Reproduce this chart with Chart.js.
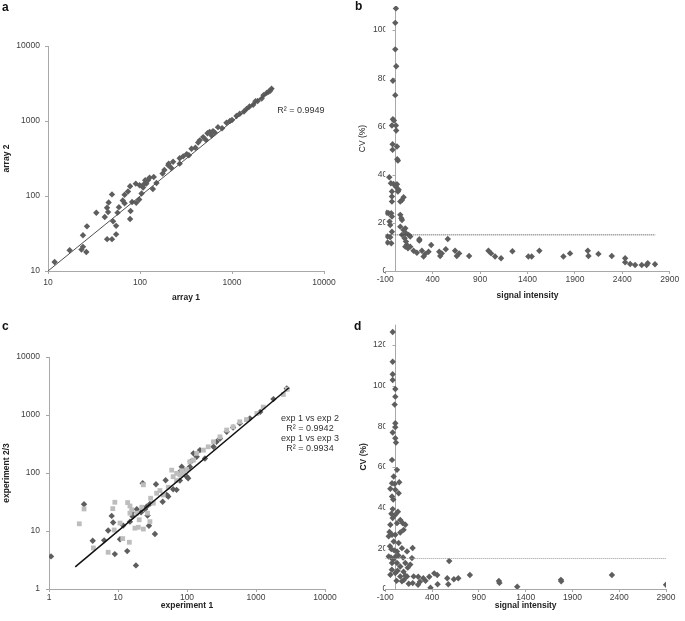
<!DOCTYPE html>
<html>
<head>
<meta charset="utf-8">
<script src="https://cdn.jsdelivr.net/npm/chart.js@4/dist/chart.umd.min.js"></script>
<style>
  body { margin: 0; background: #fff; }
  #fig { position: relative; width: 685px; height: 621px; font-family: "Liberation Sans", Arial, sans-serif; }
  #fig canvas { position: absolute; }
  .tag { position: absolute; font-weight: bold; font-size: 12px; line-height: 12px; color: #111; }
</style>
</head>
<body>
<div id="fig">
  <canvas id="chartA" width="342" height="310" style="left:0;top:0"></canvas>
  <canvas id="chartB" width="343" height="310" style="left:342px;top:0"></canvas>
  <canvas id="chartC" width="342" height="311" style="left:0;top:310px"></canvas>
  <canvas id="chartD" width="343" height="311" style="left:342px;top:310px"></canvas>
  <div class="tag" style="left:2px;top:1px">a</div>
  <div class="tag" style="left:355px;top:0px">b</div>
  <div class="tag" style="left:2px;top:320px">c</div>
  <div class="tag" style="left:354px;top:320px">d</div>
</div>
<script>
// panel a: array 1 vs array 2
const aX = [11.8, 17.2, 23.1, 24, 26.1, 24, 26.5, 33.5, 41.4, 43.8, 45.6, 45, 43.9, 49.6, 49.6, 51, 55, 55, 57, 59,
            68, 68, 65, 74, 78, 79, 78, 82, 90, 91, 98, 99, 104, 110, 114, 117, 122, 108, 127, 138,
            141, 151, 176, 184, 203, 205, 219, 229, 270, 270, 295, 322, 363, 429, 446, 486, 541, 572, 622, 704,
            871, 948, 1119, 1215, 1440, 1700, 1800, 2100, 2200, 2380, 2600, 2690,
            340, 400, 520, 600, 650, 780, 1000, 1350, 1550, 1900, 2500];
const aY = [13.2, 18.9, 19.3, 21, 17.9, 29.9, 39.4, 59.9, 52.4, 69.8, 82, 61, 26.6, 26.6, 105, 45.9, 40, 30.8, 60, 71,
            80, 104, 87, 115, 135, 63, 49.4, 83, 146, 81, 90, 139, 108, 143, 162, 146, 162, 130, 175, 124,
            179, 149, 199, 222, 257, 270, 236, 286, 318, 270, 338, 362, 427, 516, 552, 610, 688, 717, 733, 828,
            948, 1000, 1165, 1250, 1450, 1650, 1830, 1990, 2200, 2370, 2530, 2700,
            350, 440, 560, 640, 700, 800, 1030, 1340, 1560, 1850, 2450];
const aFitX = [10, 2800];
const aFitY = [10, 2750];
const aTicks = [10, 100, 1000, 10000];

// panel b: signal intensity vs CV
const bX = [12, 5, 5, 15, -20, 5, -20, -9, -30, 12, 15, -23, -23, 23, 26, 33, -58, -41, -13, 23,
            41, 12, -30, -30, -30, 33, 76, 93, 58, -83, -65, -37, -55, -48, -30, -76, -48, -76, -37, -30,
            58, 69, 76, 58, 93, 111, 118, 76, 146, 163, 104, 118, 128, 139, 111, 163, 198, 233, 286, 259,
            259, 304, 321, 356, 384, 469, 479, 496, 538, 559, 636, 654, 679, 784, 988, 1016, 1058, 1121, 1241, 1409,
            1444, 1525, 1779, 1849, 2036, 2043, 2148, 2289, 2430, 2430, 2483, 2535, 2605, 2657, 2668, 2745];
const bY = [109, 103, 92, 85, 79, 73, 63, 62.5, 60.4, 60.4, 58.3, 52.6, 50.3, 51.7, 46.4, 45.8, 38.9, 36.4, 36.1, 36,
            33.7, 35, 33, 30.9, 28.8, 33, 29.5, 30.6, 28.8, 24.2, 24, 24, 20.5, 19.1, 22.6, 14.3, 14, 11.8, 11.5, 16.3,
            23.3, 21.9, 21.2, 18.4, 17, 17.7, 15.7, 15, 15, 14.3, 13.6, 12.2, 10.8, 9.4, 10.1, 10.1, 8.4, 7.6, 8.4, 13.2,
            12.6, 6, 7.1, 8, 10.8, 8, 6.2, 7.3, 9, 13.3, 8.4, 6.2, 7.3, 6.2, 8.4, 7.3, 6, 5.3, 8.2, 6,
            6, 8.4, 6, 7.3, 8.4, 6.2, 7.1, 6.2, 5.3, 3.6, 2.9, 2.5, 2.5, 2.5, 3.2, 2.8];
const bCutX = [-100, 2750];
const bCutY = [15, 15];
const bXTicks = [-100, 400, 900, 1400, 1900, 2400, 2900];
const bYTicks = [0, 20, 40, 60, 80, 100];

// panel c: experiment 1 vs experiment 2 (dark) and 3 (light)
const cDarkX = [1.07, 3.22, 4.3, 6.3, 7.2, 8.1, 8.5, 9, 10.7, 11.9, 13.6, 14.9, 15.8, 16.3, 18.2, 18.7, 21.6, 22.8, 24.6, 25.9,
                26.8, 28.1, 29, 34.3, 35.5, 44.4, 49, 50.9, 53.5, 63, 70.6, 79, 79, 83.8, 90, 98.6, 104, 110, 113, 124,
                138, 154, 182, 242, 268, 301, 376, 466, 582, 816, 1150, 1790, 2790];
const cDarkY = [3.65, 28.9, 6.8, 6.9, 10.2, 18.2, 14, 4.0, 7.2, 12.4, 4.5, 14.5, 20.8, 17.8, 2.55, 23.7, 21.1, 66.5, 23.7, 26.3,
                18.5, 12.3, 29.3, 8.9, 63.9, 32, 74.8, 41.8, 39.3, 52.5, 51.2, 74, 105, 128, 112, 87, 81, 128, 156, 218,
                191, 248, 178, 283, 345, 394, 514, 610, 717, 875, 1130, 1880, 2860];
const cLightX = [2.75, 3.22, 4.4, 7.2, 8.4, 9, 8.8, 10.7, 11.7, 13.8, 14.6, 14.9, 15.8, 14.9, 17.6, 19.7, 20.3, 18.7, 23.3, 22.1,
                 23.3, 26.8, 29, 29.7, 32.5, 36.3, 40.5, 45.3, 53.5, 60, 63, 70.6, 70.6, 79, 83.8, 90, 98.6, 110, 124, 138,
                 173, 203, 242, 301, 376, 466, 582, 727, 1030, 1275, 2490, 2840];
const cLightY = [13.3, 24, 5.1, 4.3, 24.3, 31.3, 10.4, 13.7, 7.4, 30.9, 6.4, 27, 23.2, 20.3, 11.2, 11.6, 15.6, 20.3, 10.8, 25.7,
                 62.6, 20.3, 14.5, 36.7, 30.2, 44.8, 49.8, 41.8, 56.8, 112, 86.5, 74.1, 98.6, 92.4, 109, 98.6, 115, 156, 167, 218,
                 248, 283, 345, 420, 550, 624, 763, 834, 1060, 1370, 2260, 2780];
const cFitX = [2.4, 3000];
const cFitY = [2.4, 2950];
const cTicksX = [1, 10, 100, 1000, 10000];
const cTicksY = [1, 10, 100, 1000, 10000];

// panel d: signal intensity vs CV (second set)
const dX = [-21, -21, -21, -21, 7, 7, 0, 7, 7, -21, 7, 14, -28, 25, -10, -28, 0, -46, 7, 49,
            43, -28, -21, -35, 7, -21, -46, 25, 85, 60, -64, -28, 7, 60, 96, 114, -10, 43, -35, 25,
            78, 132, 185, -64, -28, 25, 60, 114, 167, -46, 7, 60, 78, 132, 203, 150, 193, 250, 192, 583,
            804, 1114, 1120, 1310, 1777, 1780, 562, 573, 633, 680, 459, 423, 455, 383, 370, 306, 252, 270, 330, 2322,
            2900, -40, -15, 10, 40, 90, -50, -5, 30, 95, 115, 20, -30, 100, 140, -55, 35, -15];
const dY = [126.4, 111.8, 105.6, 102.8, 98.4, 94.6, 90.7, 81.5, 79.6, 77, 74.2, 72, 63.5, 58.6, 55.3, 52, 51.7, 49.3, 48.8, 52.5,
            47.1, 45.5, 39.3, 37, 36.5, 34.9, 31.6, 32.4, 32.5, 34, 25.9, 26.7, 26.7, 27.8, 29.1, 31.6, 23.4, 22.6, 19.6, 18.5,
            20.1, 18.5, 15.2, 16, 12.8, 12.8, 11.1, 12.8, 12, 7, 7.9, 6.2, 3.8, 6.2, 6.2, 2.6, 2.9, 2.1, 20.2, 13.8,
            6.9, 3.9, 3.0, 1.1, 4.5, 3.8, 5.3, 2.3, 4.8, 5.3, 2.3, 7.7, 6.9, 0.6, 6, 5.3, 6, 3.6, 4, 6.9,
            2.1, 15.5, 14.5, 16, 16.5, 15.5, 21, 19, 9, 8.5, 6.5, 4, 9.5, 4.5, 10.5, 28, 38, 44];
const dCutX = [-100, 2900];
const dCutY = [15, 15];
const dXTicks = [-100, 400, 900, 1400, 1900, 2400, 2900];
const dYTicks = [0, 20, 40, 60, 80, 100, 120];

const FONT = '"Liberation Sans", Arial, sans-serif';
const AXIS_GREY = '#a8a8a8';
const TICK_TEXT = '#404040';
const DARK = '#5e5e5e';
const LIGHT = '#bdbdbd';

function toPoints(xs, ys) {
    return xs.map((x, i) => ({x: x, y: ys[i]}));
}

// builds one axis; size fixes the box so the plot area lands where the figure has it
function axis(o) {
    const vertical = o.position === 'left';
    return {
        type: o.type,
        position: o.position,
        min: o.min,
        max: o.max,
        afterBuildTicks: scale => { scale.ticks = o.ticks.map(v => ({value: v})); },
        afterFit: scale => { if (vertical) scale.width = o.size; else scale.height = o.size; },
        border: {display: o.line !== false, color: AXIS_GREY, width: 1},
        grid: {display: o.line !== false, drawOnChartArea: false, drawTicks: o.line !== false,
               tickLength: o.line !== false ? 3 : 0, color: AXIS_GREY},
        ticks: {autoSkip: false, maxRotation: 0, padding: o.pad, color: TICK_TEXT,
                font: {family: FONT, size: 8.5}, callback: v => String(v)},
        title: {display: true, text: o.title, color: '#222', padding: o.titlePad,
                font: {family: FONT, size: 8.5, weight: o.bold ? 'bold' : 'normal'}}
    };
}

// vertical axis line of the CV panels crosses the x axis at 0
const zeroAxis = {
    id: 'zeroAxis',
    beforeDatasetsDraw(chart) {
        const ctx = chart.ctx;
        const x = Math.round(chart.scales.x.getPixelForValue(0)) + 0.5;
        const {top, bottom} = chart.chartArea;
        ctx.save();
        ctx.strokeStyle = AXIS_GREY;
        ctx.lineWidth = 1;
        ctx.beginPath();
        ctx.moveTo(x, top);
        ctx.lineTo(x, bottom);
        chart.scales.y.ticks.forEach(t => {
            const y = Math.round(chart.scales.y.getPixelForValue(t.value)) + 0.5;
            ctx.moveTo(x - 3, y);
            ctx.lineTo(x, y);
        });
        ctx.stroke();
        ctx.restore();
    }
};

// R² labels placed in data coordinates
const noteText = {
    id: 'noteText',
    afterDatasetsDraw(chart, args, opts) {
        const ctx = chart.ctx;
        const x = chart.scales.x.getPixelForValue(opts.x);
        const y = chart.scales.y.getPixelForValue(opts.y);
        ctx.save();
        ctx.font = '9px ' + FONT;
        ctx.fillStyle = '#333';
        ctx.textAlign = 'center';
        ctx.textBaseline = 'middle';
        opts.lines.forEach((t, i) => ctx.fillText(t, x, y + i * 10));
        ctx.restore();
    }
};

const base = {
    responsive: false,
    animation: false,
    events: [],
    plugins: {legend: {display: false}, tooltip: {enabled: false}}
};

function darkSet(data) {
    return {data: data, backgroundColor: DARK, borderWidth: 0, pointStyle: 'rectRot', pointRadius: 3.2, order: 2};
}
function guideLine(data, color, width, dash) {
    return {data: data, showLine: true, pointRadius: 0, borderColor: color, borderWidth: width,
            borderDash: dash, fill: false, order: 0};
}

// a
new Chart(document.getElementById('chartA'), {
    type: 'scatter',
    data: {datasets: [
        guideLine(toPoints(aFitX, aFitY), '#505050', 1, []),
        darkSet(toPoints(aX, aY))
    ]},
    options: Object.assign({}, base, {
        layout: {padding: {left: 0, top: 46, right: 18, bottom: 0}},
        plugins: Object.assign({}, base.plugins, {noteText: {x: 5600, y: 1400, lines: ['R² = 0.9949']}}),
        scales: {
            x: axis({type: 'logarithmic', position: 'bottom', min: 10, max: 10000, ticks: aTicks, size: 39,
                     pad: 4, title: 'array 1', bold: true, titlePad: {top: 0, bottom: 7}}),
            y: axis({type: 'logarithmic', position: 'left', min: 10, max: 10000, ticks: aTicks, size: 48,
                     pad: 5, title: 'array 2', bold: true, titlePad: {top: 2, bottom: 0}})
        }
    }),
    plugins: [noteText]
});

// b
new Chart(document.getElementById('chartB'), {
    type: 'scatter',
    data: {datasets: [
        guideLine(toPoints(bCutX, bCutY), '#404040', 1, [1, 1]),
        darkSet(toPoints(bX, bY))
    ]},
    options: Object.assign({}, base, {
        layout: {padding: {left: 0, top: 6, right: 15.3, bottom: 0}},
        scales: {
            x: axis({type: 'linear', position: 'bottom', min: -100, max: 2900, ticks: bXTicks, size: 39,
                     pad: 1, title: 'signal intensity', bold: true, titlePad: {top: 0, bottom: 9}}),
            y: axis({type: 'linear', position: 'left', min: 0, max: 110, ticks: bYTicks, size: 43.3, line: false,
                     pad: -2, title: 'CV (%)', bold: false, titlePad: {top: 16, bottom: 0}})
        }
    }),
    plugins: [zeroAxis]
});

// c
new Chart(document.getElementById('chartC'), {
    type: 'scatter',
    data: {datasets: [
        guideLine(toPoints(cFitX, cFitY), '#111', 1.5, []),
        {data: toPoints(cLightX, cLightY), backgroundColor: LIGHT, borderWidth: 0, pointStyle: 'rect', pointRadius: 3.4, order: 1},
        darkSet(toPoints(cDarkX, cDarkY))
    ]},
    options: Object.assign({}, base, {
        layout: {padding: {left: 0, top: 47, right: 17, bottom: 0}},
        plugins: Object.assign({}, base.plugins, {noteText: {x: 6060, y: 887,
            lines: ['exp 1 vs exp 2', 'R² = 0.9942', 'exp 1 vs exp 3', 'R² = 0.9934']}}),
        scales: {
            x: axis({type: 'logarithmic', position: 'bottom', min: 1, max: 10000, ticks: cTicksX, size: 32,
                     pad: 1, title: 'experiment 1', bold: true, titlePad: {top: 0, bottom: 10}}),
            y: axis({type: 'logarithmic', position: 'left', min: 1, max: 10000, ticks: cTicksY, size: 49,
                     pad: 6, title: 'experiment 2/3', bold: true, titlePad: {top: 2, bottom: 0}})
        }
    }),
    plugins: [noteText]
});

// d
new Chart(document.getElementById('chartD'), {
    type: 'scatter',
    data: {datasets: [
        guideLine(toPoints(dCutX, dCutY), '#9a9a9a', 1, [1, 1]),
        darkSet(toPoints(dX, dY))
    ]},
    options: Object.assign({}, base, {
        layout: {padding: {left: 0, top: 14.7, right: 19, bottom: 0}},
        scales: {
            x: axis({type: 'linear', position: 'bottom', min: -100, max: 2900, ticks: dXTicks, size: 32,
                     pad: 1, title: 'signal intensity', bold: true, titlePad: {top: 0, bottom: 10}}),
            y: axis({type: 'linear', position: 'left', min: 0, max: 130, ticks: dYTicks, size: 43.3, line: false,
                     pad: -2, title: 'CV (%)', bold: true, titlePad: {top: 17, bottom: 0}})
        }
    }),
    plugins: [zeroAxis]
});
</script>
</body>
</html>
